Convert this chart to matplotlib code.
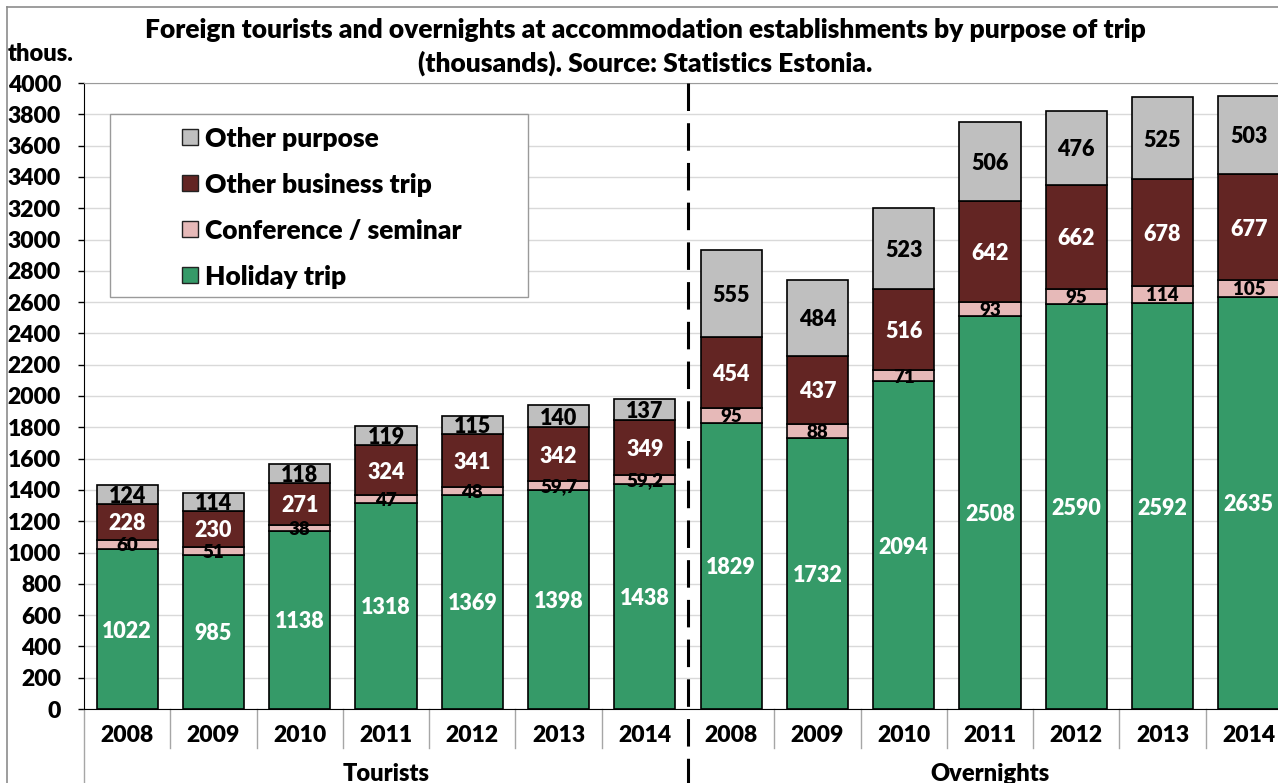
import matplotlib
matplotlib.use('Agg')
import matplotlib.pyplot as plt
from matplotlib.patches import Rectangle
from matplotlib.lines import Line2D

plt.rcParams['font.family'] = ['Lato', 'DejaVu Sans']
plt.rcParams['font.weight'] = 'heavy'
WT = 'heavy'

years = ['2008', '2009', '2010', '2011', '2012', '2013', '2014']
groups = ['Tourists', 'Overnights']
series = ['Holiday trip', 'Conference / seminar', 'Other business trip', 'Other purpose']
colors = ['#359A68', '#E6B9B8', '#632523', '#BFBFBF']
text_colors = ['white', 'black', 'white', 'black']

holiday = [1022, 985, 1138, 1318, 1369, 1398, 1438,
           1829, 1732, 2094, 2508, 2590, 2592, 2635]
conference = [60, 51, 38, 47, 48, 59.7, 59.2,
              95, 88, 71, 93, 95, 114, 105]
business = [228, 230, 271, 324, 341, 342, 349,
            454, 437, 516, 642, 662, 678, 677]
other = [124, 114, 118, 119, 115, 140, 137,
         555, 484, 523, 506, 476, 525, 503]

W, H = 1278, 783
fig = plt.figure(figsize=(W / 100, H / 100), dpi=100)


def fx(px):
    return px / W


def fy(py):
    return 1 - py / H


# plot area (extends a bit past the right edge, as in the original)
x0, x1, y0, y1 = 84, 1292, 709, 83
ax = fig.add_axes([fx(x0), fy(y0), fx(x1 - x0), (y0 - y1) / H])
ppx = 1.0 / (y0 - y1)  # axes units per pixel


def ay(py):
    return (y0 - py) * ppx


n = len(holiday)
xs = list(range(n))
bottom = [0] * n
for vals, col, tcol in zip([holiday, conference, business, other], colors, text_colors):
    ax.bar(xs, vals, bottom=bottom, width=0.71, color=col, edgecolor='black',
           linewidth=1.2, zorder=3)
    fs = 13.5 if vals is conference else 15.5
    for i, v in enumerate(vals):
        lab = str(int(v)) if float(v).is_integer() else str(v).replace('.', ',')
        ax.text(i, bottom[i] + v / 2, lab, ha='center', va='center_baseline',
                color=tcol, fontsize=fs, fontweight=WT, zorder=4)
    bottom = [b + v for b, v in zip(bottom, vals)]

ax.set_xlim(-0.5, n - 0.5)
ax.set_ylim(0, 4000)
ax.set_yticks(range(0, 4001, 200))
ax.yaxis.grid(True, color='#D9D9D9', linewidth=1)
ax.set_axisbelow(True)
ax.set_xticks([])
ax.tick_params(axis='y', direction='out', length=4.5, width=1, pad=12,
               labelsize=16.5, colors='black')
for lbl in ax.get_yticklabels():
    lbl.set_fontweight(WT)
ax.spines['left'].set_color('black')
ax.spines['bottom'].set_color('black')
ax.spines['top'].set_color('#9A9A9A')
ax.spines['right'].set_color('#9A9A9A')

tr = ax.get_xaxis_transform()
for i, yr in enumerate(years * 2):
    ax.text(i, ay(733), yr, transform=tr, ha='center', va='center_baseline',
            fontsize=16.5, fontweight=WT)
for k in range(1, n):
    if k == n // 2:
        continue
    ax.plot([k - 0.5, k - 0.5], [0, ay(748)], transform=tr,
            color='#A6A6A6', lw=1, clip_on=False)
for xe in (-0.5, n - 0.5):
    ax.plot([xe, xe], [0, ay(H)], transform=tr,
            color='#A6A6A6', lw=1, clip_on=False)
ax.plot([n / 2 - 0.5, n / 2 - 0.5], [1, ay(H)], transform=tr,
        color='black', lw=2.2, dashes=(9, 4), clip_on=False, zorder=5)
for g, name in enumerate(groups):
    ax.text(g * 7 + 3, ay(772), name, transform=tr, ha='center',
            va='center_baseline', fontsize=17, fontweight=WT)

# outer chart frame
fig.add_artist(Line2D([fx(7), fx(7)], [fy(7), 0], color='#8C8C8C', lw=1.2))
fig.add_artist(Line2D([fx(7), 1], [fy(7), fy(7)], color='#8C8C8C', lw=1.2))

fig.text(fx(645), fy(47),
         'Foreign tourists and overnights at accommodation establishments by purpose of trip\n'
         '(thousands). Source: Statistics Estonia.',
         ha='center', va='center', fontsize=19, fontweight=WT, linespacing=1.38)
fig.text(fx(8), fy(52), 'thous.', ha='left', va='center_baseline', fontsize=17,
         fontweight=WT)

# legend
fig.add_artist(Rectangle((fx(110), fy(297)), fx(528 - 110), (297 - 114) / H,
                         facecolor='white', edgecolor='#9A9A9A', lw=1,
                         transform=fig.transFigure, zorder=6))
for j, (name, col) in enumerate(zip(series[::-1], colors[::-1])):
    cy = 137 + 46 * j
    fig.add_artist(Rectangle((fx(182), fy(cy + 8)), fx(16), 16 / H,
                             facecolor=col, edgecolor='#222222', lw=1,
                             transform=fig.transFigure, zorder=7))
    fig.text(fx(205), fy(cy), name, ha='left', va='center_baseline',
             fontsize=19, fontweight=WT, zorder=7)

fig.savefig('out.png', dpi=100)
